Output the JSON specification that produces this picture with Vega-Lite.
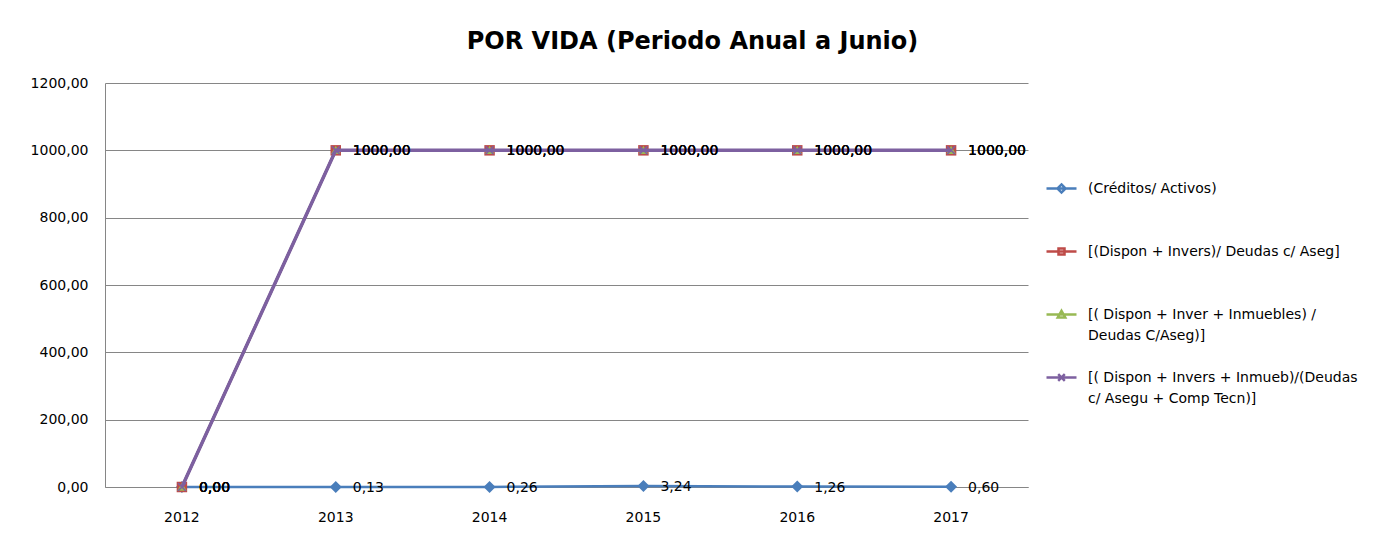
{
  "$schema": "https://vega.github.io/schema/vega-lite/v6.json",
  "autosize": {"type": "none"},
  "width": 923,
  "height": 404,
  "padding": {"left": 105, "top": 83, "right": 357, "bottom": 59},
  "background": "white",
  "title": {
    "text": "POR VIDA (Periodo Anual a Junio)",
    "font": "DejaVu Sans",
    "fontSize": 24,
    "fontWeight": "bold",
    "color": "#000000",
    "anchor": "middle",
    "frame": "group",
    "dx": 126,
    "offset": 22
  },
  "data": {
    "values": [
      {"year": "2012", "series": "(Créditos/ Activos)", "value": 0},
      {"year": "2013", "series": "(Créditos/ Activos)", "value": 0.13},
      {"year": "2014", "series": "(Créditos/ Activos)", "value": 0.26},
      {"year": "2015", "series": "(Créditos/ Activos)", "value": 3.24},
      {"year": "2016", "series": "(Créditos/ Activos)", "value": 1.26},
      {"year": "2017", "series": "(Créditos/ Activos)", "value": 0.6},
      {"year": "2012", "series": "[(Dispon + Invers)/ Deudas c/ Aseg]", "value": 0},
      {"year": "2013", "series": "[(Dispon + Invers)/ Deudas c/ Aseg]", "value": 1000},
      {"year": "2014", "series": "[(Dispon + Invers)/ Deudas c/ Aseg]", "value": 1000},
      {"year": "2015", "series": "[(Dispon + Invers)/ Deudas c/ Aseg]", "value": 1000},
      {"year": "2016", "series": "[(Dispon + Invers)/ Deudas c/ Aseg]", "value": 1000},
      {"year": "2017", "series": "[(Dispon + Invers)/ Deudas c/ Aseg]", "value": 1000},
      {"year": "2012", "series": "[( Dispon + Inver + Inmuebles) / Deudas C/Aseg)]", "value": 0},
      {"year": "2013", "series": "[( Dispon + Inver + Inmuebles) / Deudas C/Aseg)]", "value": 1000},
      {"year": "2014", "series": "[( Dispon + Inver + Inmuebles) / Deudas C/Aseg)]", "value": 1000},
      {"year": "2015", "series": "[( Dispon + Inver + Inmuebles) / Deudas C/Aseg)]", "value": 1000},
      {"year": "2016", "series": "[( Dispon + Inver + Inmuebles) / Deudas C/Aseg)]", "value": 1000},
      {"year": "2017", "series": "[( Dispon + Inver + Inmuebles) / Deudas C/Aseg)]", "value": 1000},
      {"year": "2012", "series": "[( Dispon + Invers + Inmueb)/(Deudas c/ Asegu + Comp Tecn)]", "value": 0},
      {"year": "2013", "series": "[( Dispon + Invers + Inmueb)/(Deudas c/ Asegu + Comp Tecn)]", "value": 1000},
      {"year": "2014", "series": "[( Dispon + Invers + Inmueb)/(Deudas c/ Asegu + Comp Tecn)]", "value": 1000},
      {"year": "2015", "series": "[( Dispon + Invers + Inmueb)/(Deudas c/ Asegu + Comp Tecn)]", "value": 1000},
      {"year": "2016", "series": "[( Dispon + Invers + Inmueb)/(Deudas c/ Asegu + Comp Tecn)]", "value": 1000},
      {"year": "2017", "series": "[( Dispon + Invers + Inmueb)/(Deudas c/ Asegu + Comp Tecn)]", "value": 1000}
    ]
  },
  "encoding": {
    "x": {
      "field": "year",
      "type": "ordinal",
      "scale": {"type": "band", "paddingInner": 0, "paddingOuter": 0},
      "axis": {
        "title": null,
        "labelAngle": 0,
        "ticks": false,
        "labelPadding": 23,
        "domainColor": "#868686",
        "grid": false
      }
    },
    "y": {
      "field": "value",
      "type": "quantitative",
      "scale": {"domain": [0, 1200], "nice": false},
      "axis": {
        "title": null,
        "values": [0, 200, 400, 600, 800, 1000, 1200],
        "format": ".2f",
        "ticks": false,
        "labelPadding": 17,
        "domainColor": "#868686",
        "grid": true,
        "gridColor": "#868686"
      }
    }
  },
  "layer": [
    {
      "mark": {"type": "line"},
      "encoding": {
        "color": {
          "field": "series",
          "type": "nominal",
          "scale": {
            "domain": ["(Créditos/ Activos)", "[(Dispon + Invers)/ Deudas c/ Aseg]", "[( Dispon + Inver + Inmuebles) / Deudas C/Aseg)]", "[( Dispon + Invers + Inmueb)/(Deudas c/ Asegu + Comp Tecn)]"],
            "range": ["#4A7EBB", "#BE4B48", "#98B954", "#7D60A0"]
          },
          "legend": {
            "title": null,
            "orient": "none",
            "legendX": 940,
            "legendY": 89,
            "labelFont": "DejaVu Sans",
            "labelFontSize": 14,
            "labelColor": "#000000",
            "labelLimit": 400,
            "labelOffset": 10,
            "gridAlign": "all",
            "rowPadding": 18,
            "symbolSize": 900,
            "symbolStrokeWidth": 2,
            "symbolOpacity": 1,
            "labelExpr": "datum.label == '[( Dispon + Inver + Inmuebles) / Deudas C/Aseg)]' ? ['[( Dispon + Inver + Inmuebles) /', 'Deudas C/Aseg)]'] : datum.label == '[( Dispon + Invers + Inmueb)/(Deudas c/ Asegu + Comp Tecn)]' ? ['[( Dispon + Invers + Inmueb)/(Deudas', 'c/ Asegu + Comp Tecn)]'] : datum.label"
          }
        },
        "strokeWidth": {
          "field": "series",
          "type": "nominal",
          "scale": {
            "domain": ["(Créditos/ Activos)", "[(Dispon + Invers)/ Deudas c/ Aseg]", "[( Dispon + Inver + Inmuebles) / Deudas C/Aseg)]", "[( Dispon + Invers + Inmueb)/(Deudas c/ Asegu + Comp Tecn)]"],
            "range": [2.5, 2.5, 2.5, 3.5]
          },
          "legend": null
        }
      }
    },
    {
      "mark": {"type": "point", "filled": true, "opacity": 0},
      "encoding": {
        "color": {"field": "series", "type": "nominal"},
        "stroke": {
          "field": "series",
          "type": "nominal",
          "scale": {
            "domain": ["(Créditos/ Activos)", "[(Dispon + Invers)/ Deudas c/ Aseg]", "[( Dispon + Inver + Inmuebles) / Deudas C/Aseg)]", "[( Dispon + Invers + Inmueb)/(Deudas c/ Asegu + Comp Tecn)]"],
            "range": ["#4A7EBB", "#BE4B48", "#98B954", "#7D60A0"]
          },
          "legend": null
        },
        "shape": {
          "field": "series",
          "type": "nominal",
          "scale": {
            "domain": ["(Créditos/ Activos)", "[(Dispon + Invers)/ Deudas c/ Aseg]", "[( Dispon + Inver + Inmuebles) / Deudas C/Aseg)]", "[( Dispon + Invers + Inmueb)/(Deudas c/ Asegu + Comp Tecn)]"],
            "range": ["M-1,0H1M0,-0.27L0.27,0L0,0.27L-0.27,0Z", "M-1,0H1M-0.2,-0.2H0.2V0.2H-0.2Z", "M-1,0H1M0,-0.25L0.25,0.2H-0.25Z", "M-1,0H1M-0.22,-0.22L0.22,0.22M-0.22,0.22L0.22,-0.22"]
          }
        }
      }
    },
    {
      "transform": [{"filter": "datum.series == '(Créditos/ Activos)'"}],
      "mark": {"type": "point", "shape": "diamond", "filled": true, "size": 144, "color": "#4A7EBB", "opacity": 1},
      "encoding": {}
    },
    {
      "transform": [{"filter": "datum.series == '[(Dispon + Invers)/ Deudas c/ Aseg]'"}],
      "mark": {"type": "point", "shape": "square", "filled": true, "size": 110, "color": "#BE4B48", "opacity": 1},
      "encoding": {}
    },
    {
      "transform": [{"filter": "datum.series == '[( Dispon + Inver + Inmuebles) / Deudas C/Aseg)]'"}],
      "mark": {"type": "point", "shape": "M0,-0.9L0.95,0.75H-0.95Z", "filled": true, "size": 100, "color": "#98B954", "opacity": 1},
      "encoding": {}
    },
    {
      "transform": [{"filter": "datum.series == '[( Dispon + Invers + Inmueb)/(Deudas c/ Asegu + Comp Tecn)]'"}],
      "mark": {"type": "line", "color": "#7D60A0", "strokeWidth": 3.5},
      "encoding": {}
    },
    {
      "transform": [{"filter": "datum.series == '[( Dispon + Invers + Inmueb)/(Deudas c/ Asegu + Comp Tecn)]'"}],
      "mark": {"type": "point", "shape": "M-0.8,-0.8L0.8,0.8M-0.8,0.8L0.8,-0.8", "filled": false, "size": 100, "color": "#7D60A0", "strokeWidth": 1.5, "opacity": 1},
      "encoding": {}
    },
    {
      "mark": {"type": "text", "align": "left", "baseline": "middle", "dx": 17, "dy": 1, "font": "DejaVu Sans", "fontSize": 14, "color": "#000000"},
      "encoding": {
        "text": {"field": "value", "type": "quantitative", "format": ".2f"}
      }
    }
  ],
  "config": {
    "locale": {"number": {"decimal": ",", "thousands": ".", "grouping": [3], "currency": ["", " €"]}},
    "view": {"stroke": null},
    "style": {"guide-label": {"lineHeight": 21}},
    "axis": {
      "labelFont": "DejaVu Sans",
      "labelFontSize": 14,
      "labelColor": "#000000",
      "gridWidth": 1,
      "domainWidth": 1
    }
  }
}
